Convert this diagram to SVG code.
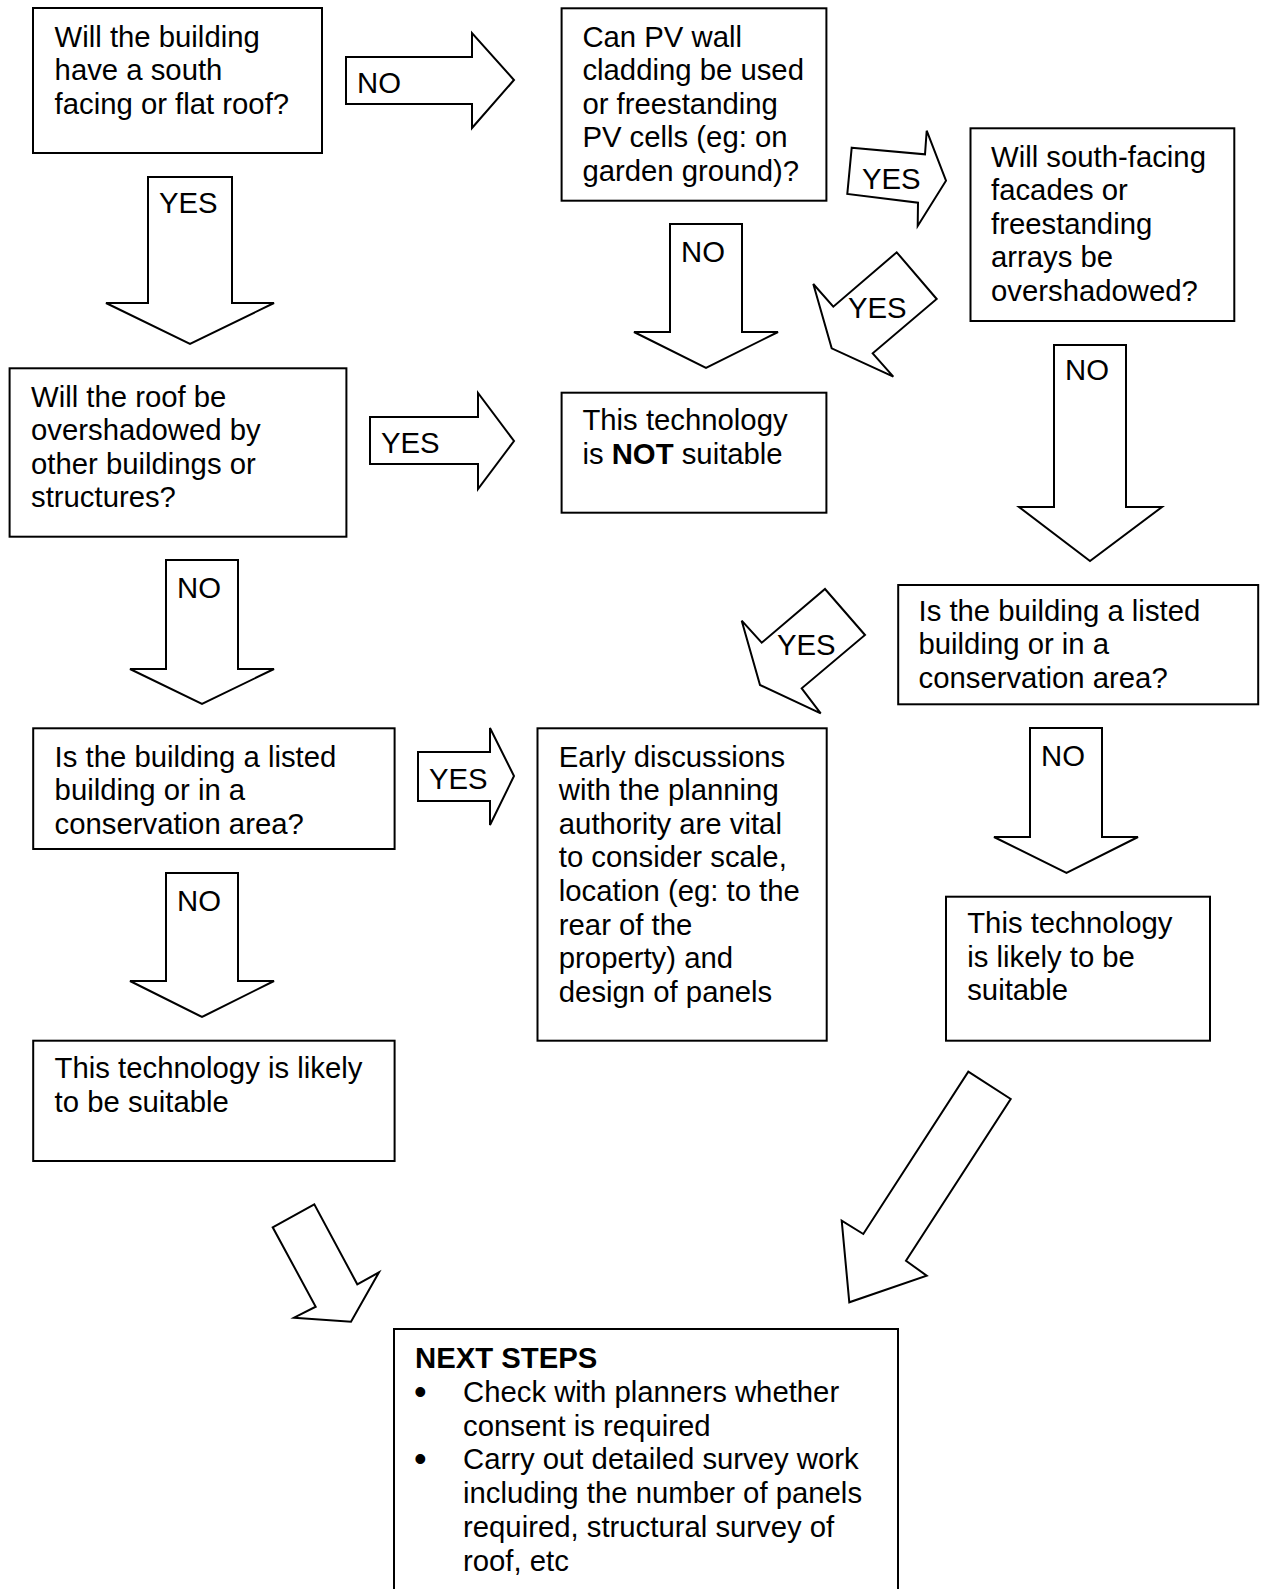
<svg xmlns="http://www.w3.org/2000/svg" width="1262" height="1589" viewBox="0 0 1262 1589">
<style>
  .box{fill:#fff;stroke:#000;stroke-width:2}
  .arr{fill:#fff;stroke:#000;stroke-width:2;stroke-linejoin:miter}
  text{font-family:"Liberation Sans",Arial,sans-serif;font-size:29.3px;fill:#000}
  .b{font-weight:bold}
  .bul{font-size:36px}
</style>
<rect width="1262" height="1589" fill="#fff"/>
<g id="connectors">
  <g id="a1"><polygon class="arr" points="346,57 472,57 472,33 514,80 472,128 472,104 346,104"/><text x="357" y="93">NO</text></g>
  <g id="a2"><polygon class="arr" points="148,177 232,177 232,303 274,303 190,344 106,303 148,303"/><text x="159" y="213">YES</text></g>
  <g id="a3"><polygon class="arr" points="670,224 742,224 742,332 778,332 706,368 634,332 670,332"/><text x="681" y="262">NO</text></g>
  <g id="a4"><polygon class="arr" points="851.7,147.7 925,154.3 926.7,130.7 946,180.7 917.7,226 918,202.7 847.3,194"/><text x="862" y="189">YES</text></g>
  <g id="a5"><polygon class="arr" points="896.7,252.3 936.7,299 872.7,353.3 893.3,376.7 831.7,348.3 813.3,284 833.3,306.7"/><text x="848" y="318">YES</text></g>
  <g id="a6"><polygon class="arr" points="370,417 478,417 478,393 514,441 478,489 478,464 370,464"/><text x="381" y="453">YES</text></g>
  <g id="a7"><polygon class="arr" points="1054,345 1126,345 1126,507 1162,507 1090,561 1019,507 1054,507"/><text x="1065" y="380">NO</text></g>
  <g id="a8"><polygon class="arr" points="166,560 238,560 238,669 274,669 202,704 130,669 166,669"/><text x="177" y="598">NO</text></g>
  <g id="a9"><polygon class="arr" points="825,589 865,635 801.7,688.3 820.7,713.3 760,685 741.7,620.7 761.7,642.7"/><text x="777" y="655">YES</text></g>
  <g id="a10"><polygon class="arr" points="418,752 490,752 490,728 514,776 490,825 490,801 418,801"/><text x="429" y="789">YES</text></g>
  <g id="a11"><polygon class="arr" points="1030,728 1102,728 1102,837 1138,837 1066.5,873 994,837 1030,837"/><text x="1041" y="766">NO</text></g>
  <g id="a12"><polygon class="arr" points="166,873 238,873 238,981 274,981 202,1017 130,981 166,981"/><text x="177" y="911">NO</text></g>
  <g id="a13"><polygon class="arr" points="968.3,1071.7 1010.7,1099 906,1260.7 926.7,1275.7 849.3,1302.3 841.7,1220.7 863.3,1234"/></g>
  <g id="a14"><polygon class="arr" points="272.7,1227.3 314.3,1204.3 357.3,1284.3 379,1272.3 351,1321.7 294,1317.7 315.7,1306.7"/></g>
</g>
<g id="n1"><rect class="box" x="33" y="8" width="289" height="145"/>
  <text x="54.6" y="46.7">Will the building</text><text x="54.6" y="80.2">have a south</text><text x="54.6" y="113.7">facing or flat roof?</text></g>
<g id="n2"><rect class="box" x="561.6" y="8.3" width="264.8" height="192.4"/>
  <text x="582.4" y="46.7">Can PV wall</text><text x="582.4" y="80.2">cladding be used</text><text x="582.4" y="113.7">or freestanding</text><text x="582.4" y="147.2">PV cells (eg: on</text><text x="582.4" y="180.7">garden ground)?</text></g>
<g id="n3"><rect class="box" x="970.5" y="128.3" width="263.8" height="192.7"/>
  <text x="991" y="166.7">Will south-facing</text><text x="991" y="200.2">facades or</text><text x="991" y="233.7">freestanding</text><text x="991" y="267.2">arrays be</text><text x="991" y="300.7">overshadowed?</text></g>
<g id="n4"><rect class="box" x="9.6" y="368.3" width="336.8" height="168.4"/>
  <text x="31" y="406.7">Will the roof be</text><text x="31" y="440.2">overshadowed by</text><text x="31" y="473.7">other buildings or</text><text x="31" y="507.2">structures?</text></g>
<g id="n5"><rect class="box" x="561.6" y="392.7" width="264.8" height="120"/>
  <text x="582.4" y="430">This technology</text><text x="582.4" y="463.5">is <tspan class="b">NOT</tspan> suitable</text></g>
<g id="n6"><rect class="box" x="898.2" y="585" width="360" height="119.3"/>
  <text x="918.5" y="620.7">Is the building a listed</text><text x="918.5" y="654.2">building or in a</text><text x="918.5" y="687.7">conservation area?</text></g>
<g id="n7"><rect class="box" x="33.2" y="728.3" width="361.4" height="120.7"/>
  <text x="54.6" y="766.7">Is the building a listed</text><text x="54.6" y="800.2">building or in a</text><text x="54.6" y="833.7">conservation area?</text></g>
<g id="n8"><rect class="box" x="537.5" y="728.3" width="289.2" height="312.4"/>
  <text x="558.8" y="766.7">Early discussions</text><text x="558.8" y="800.3">with the planning</text><text x="558.8" y="833.8">authority are vital</text><text x="558.8" y="867.4">to consider scale,</text><text x="558.8" y="901">location (eg: to the</text><text x="558.8" y="934.5">rear of the</text><text x="558.8" y="968.1">property) and</text><text x="558.8" y="1001.7">design of panels</text></g>
<g id="n9"><rect class="box" x="946" y="896.7" width="264" height="144"/>
  <text x="967.2" y="933.3">This technology</text><text x="967.2" y="966.8">is likely to be</text><text x="967.2" y="1000.3">suitable</text></g>
<g id="n10"><rect class="box" x="33.2" y="1040.7" width="361.4" height="120.3"/>
  <text x="54.6" y="1078.3">This technology is likely</text><text x="54.6" y="1111.8">to be suitable</text></g>
<g id="n11"><rect class="box" x="394" y="1329" width="504" height="300"/>
  <text class="b" x="415" y="1368">NEXT STEPS</text>
  <text class="bul" x="414" y="1404">•</text><text x="463" y="1402">Check with planners whether</text><text x="463" y="1435.7">consent is required</text>
  <text class="bul" x="414" y="1471.4">•</text><text x="463" y="1469.4">Carry out detailed survey work</text><text x="463" y="1503.1">including the number of panels</text><text x="463" y="1536.8">required, structural survey of</text><text x="463" y="1570.5">roof, etc</text></g>
</svg>
